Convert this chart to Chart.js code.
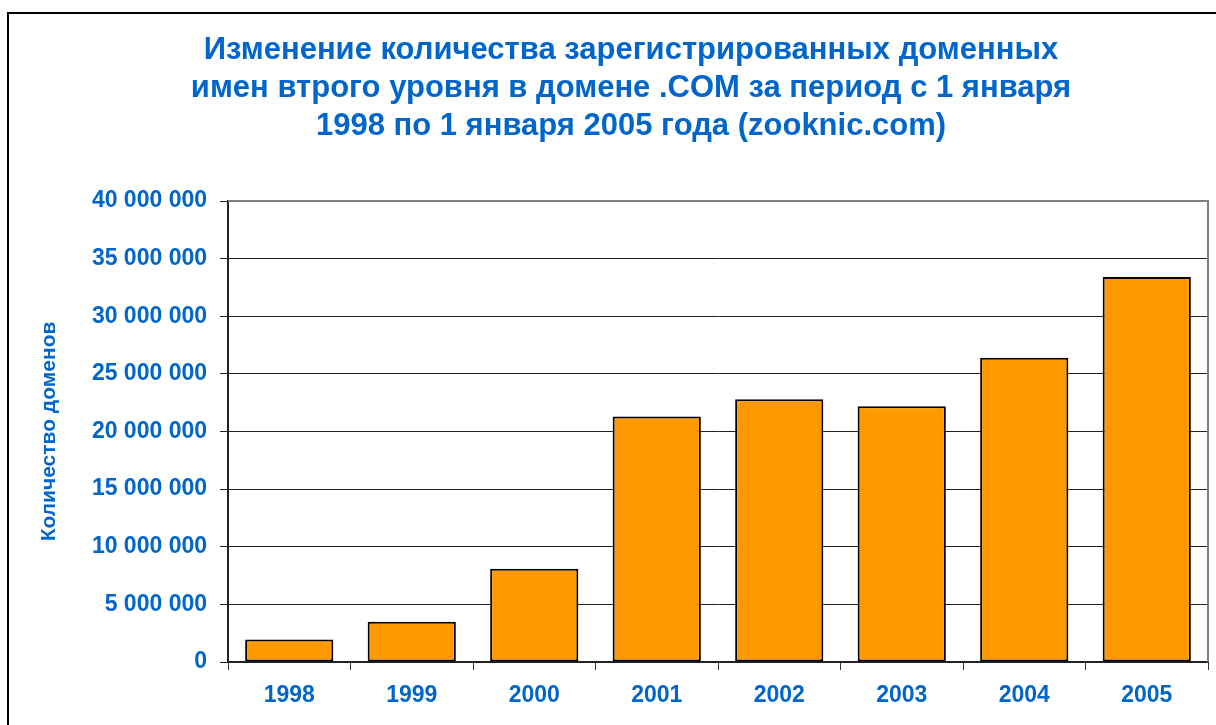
<!DOCTYPE html>
<html><head><meta charset="utf-8">
<script src="https://cdn.jsdelivr.net/npm/chart.js@4/dist/chart.umd.min.js"></script>
<style>
html,body{margin:0;padding:0;background:#fff;overflow:hidden}
#wrap{position:relative;width:1216px;height:725px}
#frame{position:absolute;left:7px;top:12px;width:1300px;height:800px;border:2px solid #000;box-sizing:border-box}
canvas{position:absolute;left:0;top:0}
</style></head>
<body><div id="wrap"><div id="frame"></div><canvas id="c" width="1216" height="725"></canvas></div>
<script>
const titleLines = ['Изменение количества зарегистрированных доменных','имен втрого уровня в домене .COM за период с 1 января','1998 по 1 января 2005 года (zooknic.com)'];
const yAxisTitle = 'Количество доменов';
const years = ['1998','1999','2000','2001','2002','2003','2004','2005'];
const domains = [1950000, 3500000, 8100000, 21300000, 22800000, 22200000, 26400000, 33400000];
const yMax = 40000000;
const yStep = 5000000;

const blue = '#0066CC';
const font = "'Liberation Sans', Arial, sans-serif";

const frameBox = {
  id: 'frameBox',
  beforeDatasetsDraw(chart){
    const a = chart.chartArea, ctx = chart.ctx;
    ctx.save();
    ctx.strokeStyle = '#808080'; ctx.lineWidth = 2;
    ctx.beginPath();
    ctx.moveTo(a.left, a.top); ctx.lineTo(a.right, a.top); ctx.lineTo(a.right, a.bottom);
    ctx.stroke();
    ctx.restore();
  }
};

const padLeft = 54;

new Chart(document.getElementById('c'), {
  type: 'bar',
  data: { labels: years, datasets: [{ data: domains, backgroundColor: '#FF9900', borderColor: '#000', borderWidth: 2, borderSkipped: false, barPercentage: 0.72, categoryPercentage: 1 }] },
  options: {
    responsive: false, animation: false,
    layout: { padding: { left: padLeft, right: 8, top: 0, bottom: 0 } },
    plugins: {
      legend: { display: false }, tooltip: { enabled: false },
      title: { display: true, text: titleLines, color: blue, font: { family: font, size: 31, weight: 'bold', lineHeight: 38/31 }, padding: { top: 31, bottom: 56 } }
    },
    scales: {
      x: {
        grid: { display: true, drawOnChartArea: false, offset: true, color: '#333', tickLength: 8, lineWidth: 1 },
        border: { color: '#222', width: 2 },
        ticks: { color: blue, font: { family: font, size: 23, weight: 'bold' }, padding: 12 },
        afterFit(s){ s.height = 63; }
      },
      y: {
        min: 0, max: yMax,
        grid: { color: '#222', lineWidth: 1, tickLength: 8 },
        border: { color: '#222', width: 2 },
        ticks: { stepSize: yStep, color: blue, font: { family: font, size: 23, weight: 'bold' }, padding: 13,
          callback: v => String(v).replace(/\B(?=(\d{3})+(?!\d))/g, ' ') },
        title: { display: true, text: yAxisTitle, color: blue, font: { family: font, size: 21, weight: 'bold', lineHeight: 1.2 }, padding: { top: -17.6, bottom: 0 } },
        afterFit(s){ s.width = 228 - padLeft; }
      }
    }
  },
  plugins: [frameBox]
});
</script></body></html>
